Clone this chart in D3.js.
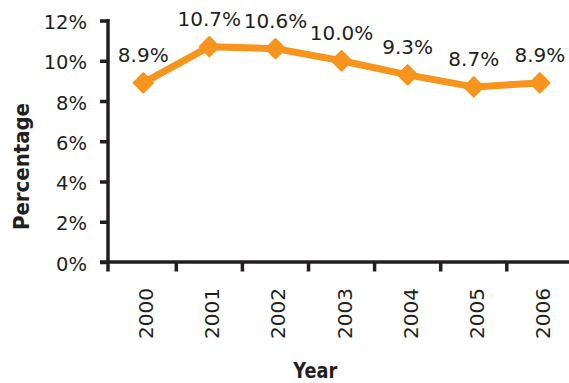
<!DOCTYPE html>
<html>
<head>
<meta charset="utf-8">
<script src="https://cdn.jsdelivr.net/npm/d3@7"></script>
<style>
  body { margin: 0; background: #fff; }
  text { font-family: "DejaVu Sans", sans-serif; fill: #231f20; }
</style>
</head>
<body>
<div id="chart"></div>
<script>
// data
var years  = ['2000', '2001', '2002', '2003', '2004', '2005', '2006'];
var values = [8.9, 10.7, 10.6, 10.0, 9.3, 8.7, 8.9];
var yTicks = [0, 2, 4, 6, 8, 10, 12];

var width   = 569;
var height  = 383;
var plotL   = 108;   // y axis position
var plotT   = 20.5;
var plotB   = 262;   // x axis position
var band    = 66.1;

var svg = d3.select('#chart').append('svg')
    .attr('width', width)
    .attr('height', height);

var x_scale = d3.scaleBand().domain(years).range([110.2, 110.2 + 7 * band]);
var y_scale = d3.scaleLinear().domain([0, 12]).range([plotB, plotT]);

var axisColor = '#231f20';
var orange = '#f7941d';

// y axis
var yAxis = svg.append('g')
    .attr('transform', 'translate(' + plotL + ',0)')
    .call(d3.axisLeft(y_scale).tickValues(yTicks)
        .tickFormat(function (d) { return d + '%'; })
        .tickSize(8).tickPadding(13));
yAxis.select('.domain').remove();
yAxis.append('line')
    .attr('x1', 0).attr('x2', 0)
    .attr('y1', y_scale(12) - 1.5).attr('y2', plotB + 9.5)
    .attr('stroke', axisColor).attr('stroke-width', 3.5);
yAxis.selectAll('.tick line').attr('stroke', axisColor).attr('stroke-width', 3.5);
yAxis.selectAll('.tick text')
    .style('font-size', '19.5px')
    .attr('dy', '0.42em')
    .attr('fill', axisColor);

// x axis: ticks at band boundaries
var xg = svg.append('g');
xg.append('line')
    .attr('x1', plotL - 8).attr('x2', width)
    .attr('y1', plotB).attr('y2', plotB)
    .attr('stroke', axisColor).attr('stroke-width', 3.5);
xg.selectAll('.xtick')
    .data(years.slice(1))
    .enter().append('line')
    .attr('x1', function (d) { return x_scale(d); })
    .attr('x2', function (d) { return x_scale(d); })
    .attr('y1', plotB).attr('y2', plotB + 9.5)
    .attr('stroke', axisColor).attr('stroke-width', 3.5);
xg.selectAll('.xlabel')
    .data(years)
    .enter().append('text')
    .attr('transform', function (d) {
        return 'translate(' + (x_scale(d) + x_scale.bandwidth() / 2 + 10) + ',' + (plotB + 26) + ') rotate(-90)';
    })
    .attr('text-anchor', 'end')
    .style('font-size', '20px')
    .text(function (d) { return d; });

// axis titles
svg.append('text')
    .attr('transform', 'translate(29,166.5) rotate(-90)')
    .attr('text-anchor', 'middle')
    .attr('textLength', 127)
    .attr('lengthAdjust', 'spacingAndGlyphs')
    .style('font-size', '22px')
    .style('font-weight', 'bold')
    .text('Percentage');

svg.append('text')
    .attr('x', 315.3)
    .attr('y', 378)
    .attr('text-anchor', 'middle')
    .attr('textLength', 44)
    .attr('lengthAdjust', 'spacingAndGlyphs')
    .style('font-size', '22px')
    .style('font-weight', 'bold')
    .text('Year');

// line
var cx = function (d, i) { return x_scale(years[i]) + x_scale.bandwidth() / 2; };
var v_line = d3.line()
    .x(cx)
    .y(function (d) { return y_scale(d); });

svg.append('path')
    .datum(values)
    .attr('d', v_line)
    .attr('fill', 'none')
    .attr('stroke', orange)
    .attr('stroke-width', 7)
    .attr('stroke-linejoin', 'round');

// diamond markers
svg.selectAll('.marker')
    .data(values)
    .enter().append('path')
    .attr('d', d3.symbol().type(d3.symbolDiamond2).size(240))
    .attr('transform', function (d, i) {
        return 'translate(' + cx(d, i) + ',' + y_scale(d) + ')';
    })
    .attr('fill', orange)
    .attr('stroke', orange)
    .attr('stroke-width', 2)
    .attr('stroke-linejoin', 'round');

// data labels
svg.selectAll('.label')
    .data(values)
    .enter().append('text')
    .attr('x', cx)
    .attr('y', function (d) { return y_scale(d) - 20.5; })
    .attr('text-anchor', 'middle')
    .style('font-size', '20px')
    .text(function (d) { return d.toFixed(1) + '%'; });
</script>
</body>
</html>
